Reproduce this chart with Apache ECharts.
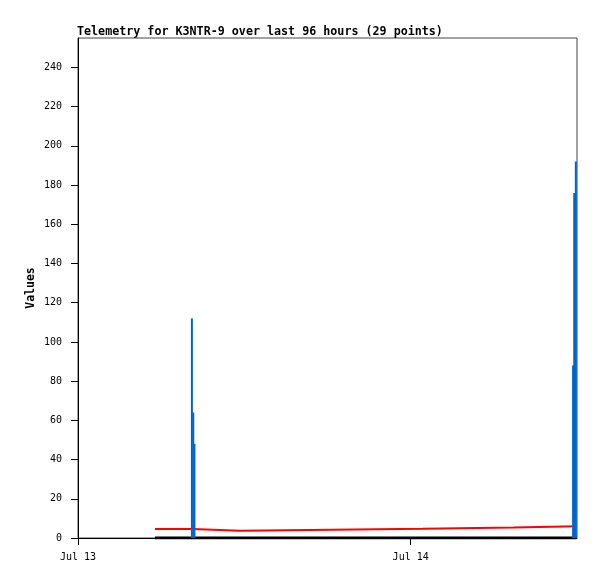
<!DOCTYPE html>
<html><head><meta charset="utf-8">
<script src="https://cdn.jsdelivr.net/npm/echarts@6/dist/echarts.min.js"></script>
<style>html,body{margin:0;padding:0;background:#fff}#c{width:597px;height:579px}</style>
</head><body><div id="c"></div>
<script>
const titleText = 'Telemetry for K3NTR-9 over last 96 hours (29 points)';
const yName = 'Values';
const xMin = '2024-07-13 00:00';
const xMax = '2024-07-14 12:00';
const xTickTimes = ['2024-07-13 00:00', '2024-07-14 00:00'];
const yTicks = [0, 20, 40, 60, 80, 100, 120, 140, 160, 180, 200, 220, 240];
const yMax = 255;

// red step series
const redTimes = ['2024-07-13 05:33', '2024-07-13 08:17', '2024-07-13 11:41', '2024-07-13 18:18', '2024-07-14 00:52', '2024-07-14 07:25', '2024-07-14 11:58'];
const redValues = [4.6, 3.7, 4.2, 4.7, 5.4, 6.0, 6.0];
// black series (zero)
const blackTimes = ['2024-07-13 05:33', '2024-07-14 11:58'];
const blackValues = [0, 0];
// blue impulses
const blueTimes = ['2024-07-13 08:13', '2024-07-13 08:19', '2024-07-13 08:24', '2024-07-14 11:43', '2024-07-14 11:48', '2024-07-14 11:55'];
const blueValues = [112, 64, 48, 88, 176, 192];

const MONO = '"DejaVu Sans Mono", "Liberation Mono", monospace';
const ms = s => new Date(s.replace(' ', 'T') + ':00').getTime();
const T0 = ms(xMin);
const hr = s => (ms(s) - T0) / 3600000;   // hours since axis start
const months = ['Jan','Feb','Mar','Apr','May','Jun','Jul','Aug','Sep','Oct','Nov','Dec'];

const chart = echarts.init(document.getElementById('c'), null, {renderer: 'canvas'});
chart.setOption({
  animation: false,
  backgroundColor: '#fff',
  title: {
    text: titleText, left: 77, top: 26, padding: 0,
    textStyle: {fontFamily: MONO, fontSize: 11.7, fontWeight: 'bold', color: '#000'}
  },
  grid: {left: 78, right: 20, top: 38, bottom: 41, show: true, borderColor: '#444', borderWidth: 1, backgroundColor: 'transparent'},
  xAxis: {
    type: 'value', min: 0, max: hr(xMax),
    splitLine: {show: false},
    axisLine: {onZero: false, lineStyle: {color: '#000', width: 1}},
    axisTick: {show: true, length: 7, lineStyle: {color: '#000'}, customValues: xTickTimes.map(hr)},
    axisLabel: {
      customValues: xTickTimes.map(hr),
      margin: 14, fontFamily: MONO, fontSize: 10, color: '#000',
      formatter: v => { const d = new Date(T0 + v * 3600000); return months[d.getMonth()] + ' ' + d.getDate(); }
    }
  },
  yAxis: {
    type: 'value', min: 0, max: yMax,
    name: yName, nameLocation: 'middle', nameGap: 41, nameMoveOverlap: false,
    nameTextStyle: {fontFamily: MONO, fontSize: 11.5, fontWeight: 'bold', color: '#000'},
    splitLine: {show: false},
    axisLine: {show: true, lineStyle: {color: '#000', width: 1}},
    axisTick: {show: true, length: 7, lineStyle: {color: '#000'}, customValues: yTicks},
    axisLabel: {customValues: yTicks, margin: 16, fontFamily: MONO, fontSize: 10, color: '#000'}
  },
  series: [
    {type: 'line', data: blackTimes.map((t, i) => [hr(t), blackValues[i]]), showSymbol: false,
     lineStyle: {color: '#000', width: 3}, z: 3},
    {type: 'line', step: 'end', data: redTimes.map((t, i) => [hr(t), redValues[i]]), showSymbol: false,
     lineStyle: {color: '#ff0000', width: 2}, z: 4},
    {type: 'bar', data: blueTimes.map((t, i) => [hr(t), blueValues[i]]), barWidth: 2,
     itemStyle: {color: '#0066cc'}, z: 5}
  ]
});
</script></body></html>
